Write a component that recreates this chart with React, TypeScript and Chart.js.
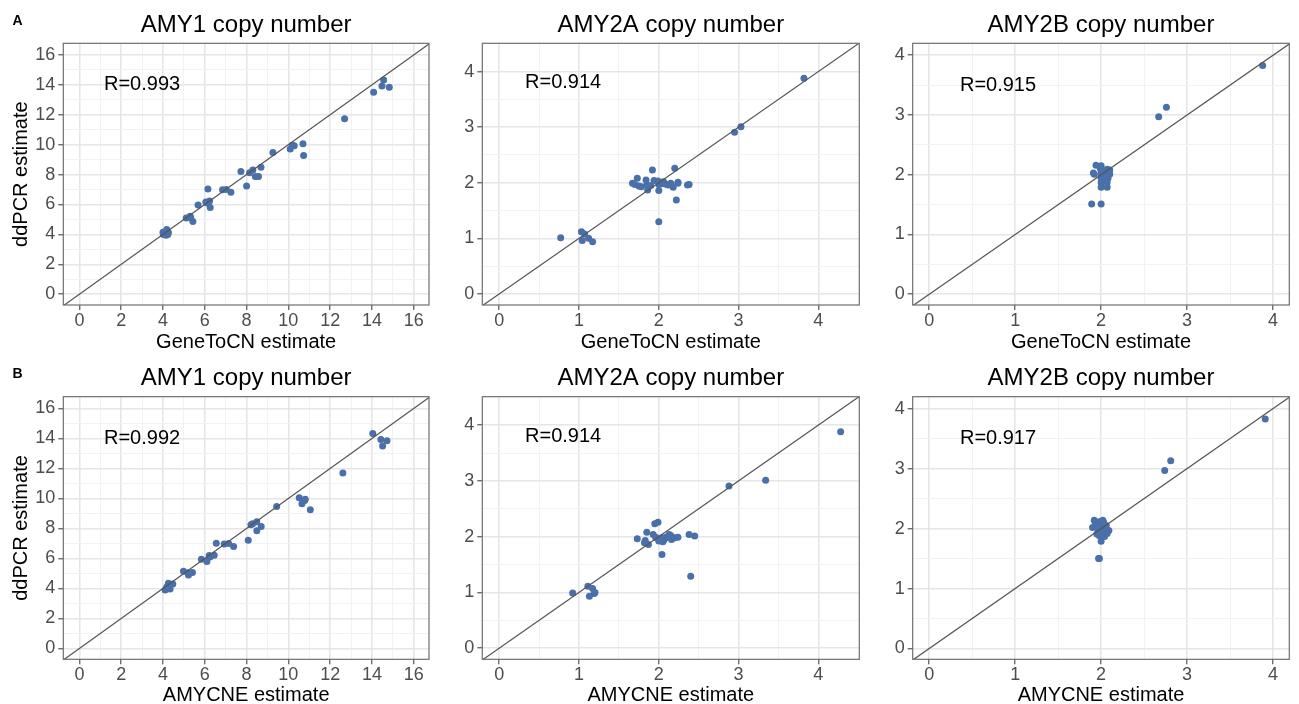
import React, { useEffect, useRef } from 'react';
import { Chart, registerables } from 'chart.js';

Chart.register(...registerables);

// ---------- data ----------
// Row A: GeneToCN estimate (x) vs ddPCR estimate (y)
const amy1GeneToCN = [14.56, 14.48, 14.08, 14.83, 12.69, 10.09, 10.19, 10.28, 10.7, 10.73, 9.26, 7.73, 8.14, 8.3, 8.69, 8.42, 8.57, 8.0, 7.25, 6.85, 7.03, 6.15, 6.05, 6.23, 6.12, 6.26, 5.68, 5.11, 5.3, 5.33, 5.43, 4.02, 4.18, 4.23, 4.1, 4.0, 4.26, 4.15];
const amy1DdpcrA = [14.33, 13.93, 13.51, 13.84, 11.73, 9.71, 9.96, 9.93, 10.07, 9.27, 9.47, 8.2, 8.13, 8.31, 8.49, 7.87, 7.87, 7.24, 6.82, 6.98, 7.0, 7.04, 6.16, 6.24, 6.1, 5.8, 5.96, 5.09, 5.22, 5.09, 4.87, 4.0, 4.33, 4.0, 4.1, 4.15, 4.12, 3.95];

const amy2aGeneToCN = [3.82, 3.03, 2.95, 2.2, 1.92, 1.73, 1.67, 1.7, 1.75, 1.84, 1.85, 1.86, 1.94, 1.99, 2.0, 2.01, 2.06, 2.1, 2.15, 2.18, 2.24, 2.24, 2.36, 2.38, 2.22, 2.0, 0.77, 1.03, 1.07, 1.04, 1.12, 1.17, 2.0, 1.78, 2.04, 2.12, 1.9];
const amy2aDdpcrA = [3.88, 3.01, 2.91, 2.26, 2.23, 2.08, 1.99, 1.97, 1.94, 2.05, 1.96, 1.87, 2.04, 2.03, 1.86, 1.99, 2.02, 1.97, 1.99, 1.92, 2.01, 1.99, 1.96, 1.97, 1.69, 1.3, 1.01, 1.12, 1.08, 0.96, 1.0, 0.94, 1.97, 1.93, 1.98, 1.96, 1.95];

const amy2bGeneToCN = [3.88, 2.76, 2.67, 1.94, 1.91, 1.92, 2.0, 2.0, 2.0, 2.0, 2.0, 2.0, 2.07, 2.09, 2.1, 2.08, 2.07, 2.07, 1.89, 2.0, 2.05, 2.03, 2.0, 2.08, 2.1, 1.99, 2.06];
const amy2bDdpcrA = [3.83, 3.13, 2.97, 2.16, 2.03, 2.01, 2.15, 2.08, 2.02, 1.94, 1.87, 1.79, 2.09, 2.06, 2.01, 1.94, 1.87, 1.79, 1.51, 1.51, 2.03, 1.97, 1.98, 2.0, 2.08, 2.11, 1.91];

// Row B: AMYCNE estimate (x) vs ddPCR estimate (y)
const amy1Amycne = [14.04, 14.43, 14.51, 14.72, 12.61, 10.52, 10.65, 10.81, 10.78, 11.05, 9.44, 8.21, 8.29, 8.49, 8.7, 8.49, 8.08, 7.38, 6.93, 7.14, 6.55, 6.21, 6.45, 6.1, 6.25, 5.84, 4.98, 5.22, 5.41, 5.19, 4.47, 4.26, 4.1, 4.23, 4.34, 4.18, 4.3, 4.15];
const amy1DdpcrB = [14.33, 13.93, 13.5, 13.84, 11.7, 10.05, 9.65, 9.94, 9.87, 9.25, 9.47, 8.25, 8.31, 8.45, 8.13, 7.84, 7.22, 6.8, 6.97, 7.0, 7.02, 6.2, 6.22, 5.79, 6.1, 5.95, 5.15, 4.9, 5.06, 5.04, 4.3, 4.35, 3.9, 4.0, 3.97, 4.1, 4.05, 3.95];

const amy2aAmycne = [4.28, 3.34, 2.88, 1.99, 1.95, 1.85, 1.73, 1.83, 1.82, 1.87, 1.93, 1.96, 2.01, 2.04, 2.06, 2.09, 2.13, 2.16, 2.2, 2.24, 2.38, 2.45, 2.04, 2.4, 0.92, 1.11, 1.17, 1.13, 1.19, 1.2, 2.02, 2.08, 2.11, 2.05, 1.98, 2.15, 2.0];
const amy2aDdpcrB = [3.88, 3.01, 2.91, 2.26, 2.23, 2.08, 1.96, 1.93, 1.89, 1.86, 2.04, 1.99, 1.93, 1.98, 1.93, 1.99, 2.04, 1.95, 1.98, 1.99, 2.04, 2.01, 1.68, 1.29, 0.99, 1.11, 1.07, 0.93, 0.98, 1.0, 1.95, 1.97, 2.0, 1.91, 1.97, 2.02, 1.92];

const amy2bAmycne = [3.91, 2.81, 2.74, 1.97, 1.98, 2.0, 1.92, 2.02, 1.9, 1.95, 2.09, 2.04, 1.98, 2.0, 2.06, 1.97, 1.94, 2.02, 1.98, 2.07, 1.93, 2.03, 2.01, 1.96, 2.05, 1.99, 2.0];
const amy2bDdpcrB = [3.83, 3.13, 2.97, 1.5, 1.5, 1.79, 2.14, 2.14, 2.02, 1.91, 1.97, 1.87, 2.08, 1.99, 2.05, 1.97, 2.11, 1.94, 1.88, 1.92, 2.06, 2.1, 2.03, 2.0, 1.95, 2.12, 1.9];

// tick values
const amy1MajorTicks = [0, 2, 4, 6, 8, 10, 12, 14, 16];
const amy1MinorTicks = [1, 3, 5, 7, 9, 11, 13, 15];
const amy2MajorTicks = [0, 1, 2, 3, 4];
const amy2MinorTicks = [0.5, 1.5, 2.5, 3.5];

// texts
const panelTitles = ['AMY1 copy number', 'AMY2A copy number', 'AMY2B copy number'];
const rowXLabels = ['GeneToCN estimate', 'AMYCNE estimate'];
const yAxisLabel = 'ddPCR estimate';
const rowTags = ['A', 'B'];
const rLabels = [
  ['R=0.993', 'R=0.914', 'R=0.915'],
  ['R=0.992', 'R=0.914', 'R=0.917'],
];
const rLabelX = [3, 0.8, 0.8];
const rLabelY = [14, 3.8, 3.5];

// axis ranges per column
const colXMin = [-0.77, -0.213, -0.193];
const colXMax = [16.73, 4.514, 4.19];
const colYMin = [-0.72, -0.2, -0.18];
const colYMax = [16.78, 4.51, 4.2];

const rowSeries = [
  [[amy1GeneToCN, amy1DdpcrA], [amy2aGeneToCN, amy2aDdpcrA], [amy2bGeneToCN, amy2bDdpcrA]],
  [[amy1Amycne, amy1DdpcrB], [amy2aAmycne, amy2aDdpcrB], [amy2bAmycne, amy2bDdpcrB]],
];

// ---------- layout & style ----------
const FONT = '"Liberation Sans", Arial, Helvetica, sans-serif';
const POINT_COLOR = '#4a70a9';
const LINE_COLOR = '#555555';
const BORDER_COLOR = '#6e6e6e';
const GRID_MAJOR = '#e6e6e6';
const GRID_MINOR = '#f2f2f2';

const colLeft = [0, 440, 870];
const colWidth = [440, 430, 429];
const colYAxisW = [63.3, 42.3, 42.7];
const colPadRight = [11, 10.7, 9.7];

const rowTop = [0, 360];
const rowHeight = [360, 352];
const rowPadTop = [43.3, 36.7];
const rowXAxisH = [55, 52.7];
const rowTitleBaseline = [31.5, 25];
const rowXTitlePadBottom = [5.6, 4.3];
const rowTagBaseline = [25, 18.3];

const decoPlugin = {
  id: 'panelDeco',
  afterDatasetsDraw(chart: any, _args: any, opts: any) {
    const { ctx, chartArea: a } = chart;
    ctx.save();
    ctx.strokeStyle = BORDER_COLOR;
    ctx.lineWidth = 1.2;
    ctx.strokeRect(a.left, a.top, a.right - a.left, a.bottom - a.top);
    const xs = chart.scales.x;
    const ys = chart.scales.y;
    ctx.fillStyle = '#000';
    ctx.font = `20px ${FONT}`;
    ctx.textAlign = 'center';
    ctx.textBaseline = 'middle';
    ctx.fillText(opts.rText, xs.getPixelForValue(opts.annX), ys.getPixelForValue(opts.annY));
    ctx.restore();
  },
  afterDraw(chart: any, _args: any, opts: any) {
    const { ctx, chartArea: a } = chart;
    ctx.save();
    ctx.fillStyle = '#000';
    ctx.font = `24px ${FONT}`;
    ctx.textAlign = 'center';
    ctx.textBaseline = 'alphabetic';
    ctx.fillText(opts.title, (a.left + a.right) / 2, opts.titleY);
    if (opts.tag) {
      ctx.font = `bold 14px ${FONT}`;
      ctx.textAlign = 'left';
      ctx.fillText(opts.tag, 12.5, opts.tagY);
    }
    ctx.restore();
  },
};

function Panel({ row, col }: { row: number; col: number }) {
  const ref = useRef<HTMLCanvasElement>(null);
  const w = colWidth[col];
  const h = rowHeight[row];

  useEffect(() => {
    const [xs, ys] = rowSeries[row][col];
    const points = xs.map((x, i) => ({ x, y: ys[i] }));
    const major = col === 0 ? amy1MajorTicks : amy2MajorTicks;
    const minor = col === 0 ? amy1MinorTicks : amy2MinorTicks;
    const all = [...major, ...minor].sort((p, q) => p - q);
    const majorSet = new Set(major);
    const lo = Math.min(colXMin[col], colYMin[col]) - 1;
    const hi = Math.max(colXMax[col], colYMax[col]) + 1;
    const abline = [{ x: lo, y: lo }, { x: hi, y: hi }];

    const gridCfg = {
      color: (c: any) => (majorSet.has(c.tick?.value) ? GRID_MAJOR : GRID_MINOR),
      lineWidth: (c: any) => (majorSet.has(c.tick?.value) ? 1.6 : 1),
      tickLength: 5,
      tickColor: (c: any) => (majorSet.has(c.tick?.value) ? '#333333' : 'rgba(0,0,0,0)'),
      tickWidth: 1,
    };
    const tickCfg = (pad: number) => ({
      autoSkip: false,
      maxRotation: 0,
      minRotation: 0,
      padding: pad,
      color: '#4d4d4d',
      font: { size: 18, family: FONT },
      callback: (v: any) => (majorSet.has(v) ? String(v) : ''),
    });

    const chart = new Chart(ref.current as HTMLCanvasElement, {
      type: 'scatter',
      data: {
        datasets: [
          {
            data: abline,
            showLine: true,
            borderColor: LINE_COLOR,
            borderWidth: 1.2,
            pointRadius: 0,
            clip: 0,
          } as any,
          {
            data: points,
            backgroundColor: POINT_COLOR,
            borderWidth: 0,
            pointRadius: 3.5,
            clip: 0,
          } as any,
        ],
      },
      options: {
        animation: false,
        responsive: false,
        events: [],
        layout: { padding: { left: 0, right: colPadRight[col], top: rowPadTop[row], bottom: 0 } },
        plugins: {
          legend: { display: false },
          tooltip: { enabled: false },
          panelDeco: {
            title: panelTitles[col],
            titleY: rowTitleBaseline[row],
            rText: rLabels[row][col],
            annX: rLabelX[col],
            annY: rLabelY[col],
            tag: col === 0 ? rowTags[row] : '',
            tagY: rowTagBaseline[row],
          },
        } as any,
        scales: {
          x: {
            type: 'linear',
            min: colXMin[col],
            max: colXMax[col],
            afterBuildTicks: (s: any) => {
              s.ticks = all.map((v) => ({ value: v }));
            },
            afterFit: (s: any) => {
              s.height = rowXAxisH[row];
            },
            ticks: tickCfg(0),
            grid: gridCfg,
            border: { display: false },
            title: {
              display: true,
              text: rowXLabels[row],
              color: '#000',
              font: { size: 20, family: FONT },
              padding: { top: 0, bottom: rowXTitlePadBottom[row] },
            },
          },
          y: {
            type: 'linear',
            min: colYMin[col],
            max: colYMax[col],
            afterBuildTicks: (s: any) => {
              s.ticks = all.map((v) => ({ value: v }));
            },
            afterFit: (s: any) => {
              s.width = colYAxisW[col];
            },
            ticks: tickCfg(3),
            grid: gridCfg,
            border: { display: false },
            title: {
              display: col === 0,
              text: yAxisLabel,
              color: '#000',
              font: { size: 20, family: FONT },
              padding: { top: 9, bottom: 0 },
            },
          },
        } as any,
      },
      plugins: [decoPlugin as any],
    });
    return () => chart.destroy();
  }, [row, col]);

  return (
    <canvas
      ref={ref}
      width={w}
      height={h}
      style={{ position: 'absolute', left: colLeft[col], top: rowTop[row], width: w, height: h }}
    />
  );
}

export default function App() {
  return (
    <div
      style={{
        position: 'absolute',
        left: 0,
        top: 0,
        width: 1299,
        height: 704,
        overflow: 'hidden',
        background: '#fff',
      }}
    >
      {[0, 1].map((r) => [0, 1, 2].map((c) => <Panel key={`${r}-${c}`} row={r} col={c} />))}
    </div>
  );
}
